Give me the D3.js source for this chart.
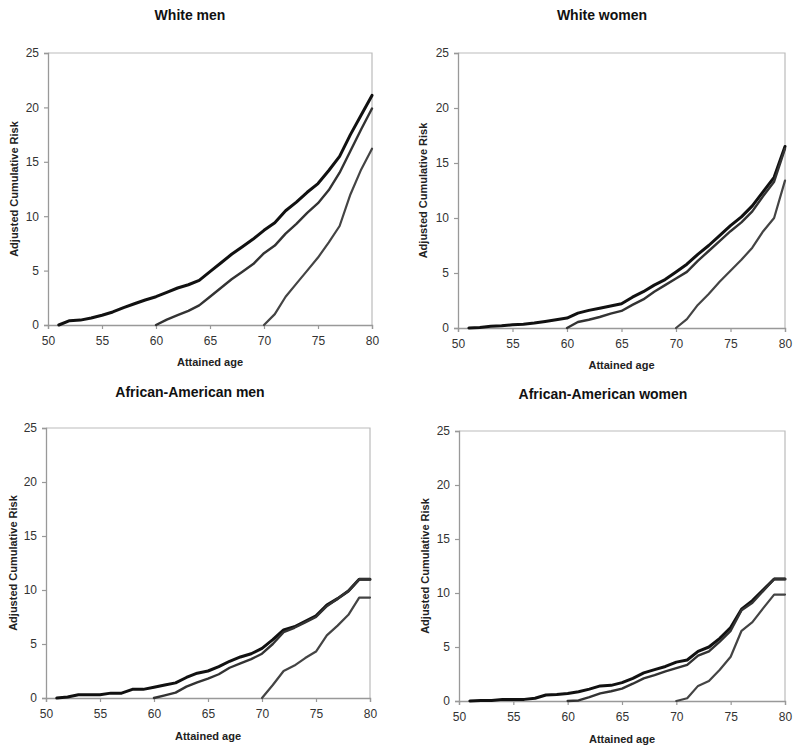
<!DOCTYPE html>
<html><head><meta charset="utf-8">
<script src="https://cdn.jsdelivr.net/npm/d3@7"></script>
<style>body{margin:0;background:#fff}svg{display:block}</style>
</head><body>
<svg id="c" width="800" height="753"></svg>
<script>
// ---- data ----
const ages51 = d3.range(51, 81);
const ages60 = d3.range(60, 81);
const ages70 = d3.range(70, 81);
const yTicks = [0, 5, 10, 15, 20, 25];
const xTicks = [50, 55, 60, 65, 70, 75, 80];
const panelTitles = ["White men", "White women", "African-American men", "African-American women"];

const whiteMen51 = [0,0.4,0.45,0.65,0.9,1.2,1.6,1.95,2.3,2.6,3.0,3.4,3.7,4.1,4.9,5.7,6.5,7.2,7.9,8.7,9.4,10.5,11.3,12.2,13.0,14.2,15.5,17.5,19.3,21.1];
const whiteMen60 = [0,0.5,0.9,1.3,1.8,2.6,3.4,4.2,4.9,5.6,6.6,7.3,8.4,9.3,10.3,11.2,12.4,14.0,16.0,18.0,19.9];
const whiteMen70 = [0,1.0,2.6,3.8,5.0,6.2,7.6,9.1,12.0,14.3,16.2];

const whiteWomen51 = [0,0.05,0.15,0.2,0.3,0.35,0.45,0.6,0.75,0.9,1.35,1.6,1.8,2.0,2.2,2.8,3.3,3.9,4.4,5.1,5.8,6.7,7.5,8.4,9.3,10.1,11.1,12.4,13.7,16.5];
const whiteWomen60 = [0,0.55,0.75,1.0,1.3,1.55,2.1,2.6,3.3,3.9,4.5,5.1,6.1,7.0,7.9,8.8,9.6,10.6,12.0,13.3,16.3];
const whiteWomen70 = [0,0.8,2.1,3.1,4.2,5.2,6.2,7.3,8.8,10.0,13.4];

const aaMen51 = [0,0.1,0.3,0.3,0.3,0.45,0.45,0.8,0.8,1.0,1.2,1.4,1.9,2.3,2.5,2.9,3.4,3.8,4.1,4.6,5.4,6.3,6.6,7.1,7.6,8.6,9.2,9.9,11.0,11.0];
const aaMen60 = [0,0.25,0.5,1.05,1.45,1.8,2.2,2.8,3.2,3.6,4.1,5.0,6.1,6.5,7.0,7.5,8.5,9.2,9.9,11.0,11.0];
const aaMen70 = [0,1.2,2.5,3.0,3.7,4.3,5.8,6.7,7.7,9.3,9.3];

const aaWomen51 = [0,0.05,0.05,0.15,0.15,0.15,0.25,0.55,0.6,0.7,0.85,1.1,1.4,1.45,1.7,2.1,2.6,2.9,3.2,3.6,3.8,4.6,5.0,5.8,6.8,8.5,9.3,10.3,11.3,11.3];
const aaWomen60 = [0,0.05,0.35,0.7,0.9,1.15,1.6,2.1,2.4,2.75,3.05,3.35,4.2,4.6,5.5,6.5,8.4,9.1,10.2,11.3,11.3];
const aaWomen70 = [0,0.25,1.4,1.85,2.9,4.1,6.5,7.3,8.6,9.85,9.85];

// ---- layout ----
const panels = [
  {title: panelTitles[0], s:[whiteMen51, whiteMen60, whiteMen70], l:48, r:372, t:53, b:325, tx:190, ty:15, xl:362, yl:14},
  {title: panelTitles[1], s:[whiteWomen51, whiteWomen60, whiteWomen70], l:458, r:785, t:53, b:328, tx:602, ty:15, xl:365, yl:423},
  {title: panelTitles[2], s:[aaMen51, aaMen60, aaMen70], l:46, r:370, t:428, b:698, tx:190, ty:392, xl:736, yl:13},
  {title: panelTitles[3], s:[aaWomen51, aaWomen60, aaWomen70], l:459, r:785, t:431, b:701, tx:603, ty:394, xl:739, yl:425}
];
const agesList = [ages51, ages60, ages70];
const lineStyles = [{c:"#111", w:3}, {c:"#333", w:2.4}, {c:"#444", w:2.2}];
const font = "'Liberation Sans', Arial, sans-serif";

const svg = d3.select("#c");

panels.forEach(p => {
  const x = d3.scaleLinear().domain([50, 80]).range([p.l, p.r]);
  const y = d3.scaleLinear().domain([0, 25]).range([p.b, p.t]);
  const g = svg.append("g");

  // frame top/right
  g.append("path").attr("d", `M${p.l},${p.t}H${p.r}V${p.b}`).attr("fill","none").attr("stroke","#bbb").attr("stroke-width",1.2);

  const xa = g.append("g").attr("transform", `translate(0,${p.b})`)
    .call(d3.axisBottom(x).tickValues(xTicks).tickSize(4).tickPadding(5).tickFormat(d3.format("d")));
  const ya = g.append("g").attr("transform", `translate(${p.l},0)`)
    .call(d3.axisLeft(y).tickValues(yTicks).tickSize(4).tickPadding(5).tickFormat(d3.format("d")));
  [xa, ya].forEach(a => {
    a.select(".domain").attr("stroke", "#999").attr("stroke-width", 1.3);
    a.selectAll(".tick line").attr("stroke", "#999").attr("stroke-width", 1.2);
    a.selectAll("text").attr("fill", "#333").attr("font-family", font).attr("font-size", 12);
  });
  xa.selectAll("text").attr("dy", "0.9em");

  const line = d3.line().x(d => x(d[0])).y(d => y(d[1]));
  p.s.forEach((vals, i) => {
    const pts = agesList[i].map((a, k) => [a, vals[k]]);
    g.append("path").datum(pts).attr("d", line).attr("fill","none")
      .attr("stroke", lineStyles[i].c).attr("stroke-width", lineStyles[i].w)
      .attr("stroke-linejoin","round").attr("stroke-linecap","round");
  });

  g.append("text").attr("x", p.tx).attr("y", p.ty).attr("dy","0.35em").attr("text-anchor","middle")
    .attr("font-family", font).attr("font-weight","bold").attr("font-size", 14).attr("fill","#111").text(p.title);
  g.append("text").attr("x", (p.l + p.r) / 2).attr("y", p.xl).attr("dy","0.35em").attr("text-anchor","middle")
    .attr("font-family", font).attr("font-weight","bold").attr("font-size", 11).attr("fill","#222").text("Attained age");
  g.append("text").attr("transform", `translate(${p.yl},${(p.t + p.b) / 2}) rotate(-90)`).attr("dy","0.35em").attr("text-anchor","middle")
    .attr("font-family", font).attr("font-weight","bold").attr("font-size", 11).attr("fill","#222").text("Adjusted Cumulative Risk");
});
</script>
</body></html>
